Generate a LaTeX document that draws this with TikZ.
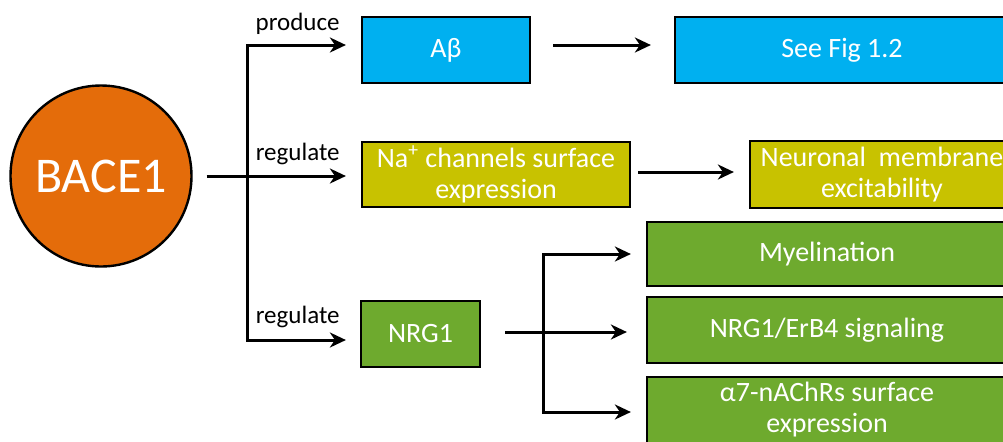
\documentclass[tikz,border=0pt]{standalone}
\usepackage{fontspec}
\setmainfont{Carlito}
\usetikzlibrary{arrows.meta,positioning,calc}
\definecolor{bacecol}{HTML}{E46C0A}
\definecolor{abcol}{HTML}{00B0F0}
\definecolor{nacol}{HTML}{C8C200}
\definecolor{nrgcol}{HTML}{6EAA2E}
\tikzset{
  box/.style  = {draw, line width=1.1pt, rectangle, minimum height=33pt,
                 inner sep=0pt, align=center, text=white,
                 font=\fontsize{14}{15.5}\selectfont},
  enzyme/.style = {draw, line width=1.2pt, circle, fill=bacecol, inner sep=0pt,
                 minimum size=90.5pt, text=white, font=\fontsize{25}{28}\selectfont},
  lbl/.style  = {font=\fontsize{12.5}{14}\selectfont, inner sep=0pt},
  sig/.style  = {-{Stealth[length=8pt,width=7.5pt,inset=2.5pt]}, line width=1.5pt},
}

\begin{document}
\begin{tikzpicture}[x=0.5pt,y=-0.5pt]
\useasboundingbox (0,0) rectangle (1003,441);
\clip (0,0) rectangle (1003,441);
% ---- BACE1 and what it acts on ----
\node[enzyme] (bace) at (101,176) {BACE1};
\node[box, fill=abcol, minimum width=84pt] (ab) at (446,50) {Aβ};
\node[box, fill=abcol, minimum width=167pt] (fig) at (842,50) {See Fig 1.2};
\node[box, fill=nacol, minimum width=134pt, minimum height=32.5pt] (na) at (496,174.5)
  {Na\textsuperscript{+} channels surface\\expression};
\node[box, fill=nacol, minimum width=132pt, minimum height=33.5pt] (neu) at (882,174.5)
  {Neuronal~~membrane\\excitability};
\node[box, fill=nrgcol, minimum width=59.5pt] (nrg) at (420.5,334) {NRG1};
\node[box, fill=nrgcol, minimum width=180pt, minimum height=32pt] (mye) at (827,254) {Myelination};
\node[box, fill=nrgcol, minimum width=180pt] (erb) at (827,330) {NRG1/ErB4 signaling};
\node[box, fill=nrgcol, minimum width=180pt] (alp) at (827,410) {α7-nAChRs surface\\expression};

% ---- branch from BACE1 ----
\coordinate (split) at (247,176);
\draw[sig, shorten <=7pt, shorten >=7.5pt] (bace.east) -- (bace.east -| na.west);
\draw[sig, shorten >=7.5pt] (split) |- ([yshift=2.5pt]ab.west);
\draw[sig, shorten >=7pt] (split) |- ([yshift=-3pt]nrg.west);
\node[lbl, anchor=base east] (lprod) at (340,30) {produce};
\node[lbl, anchor=base east] (lreg) at (340,160) {regulate};
\node[lbl, anchor=base east] (lregb) at (340,323) {regulate};

% ---- downstream ----
\draw[sig, shorten <=11pt, shorten >=11.5pt] ([yshift=2.5pt]ab.east) -- ([yshift=2.5pt]ab.east -| fig.west);
\draw[sig, shorten <=3.5pt, shorten >=7.5pt] ([yshift=1.25pt]na.east) -- ([yshift=1.25pt]na.east -| neu.west);

% ---- branch from NRG1 ----
\coordinate (nsplit) at (543,332);
\draw[sig, shorten <=12pt, shorten >=9.5pt] ([yshift=1pt]nrg.east) -- ([yshift=1pt]nrg.east -| erb.west);
\draw[sig, shorten >=7.5pt] (nsplit) |- (mye.west);
\draw[sig, shorten >=7.5pt] (nsplit) |- ([yshift=-1pt]alp.west);
\end{tikzpicture}
\end{document}
